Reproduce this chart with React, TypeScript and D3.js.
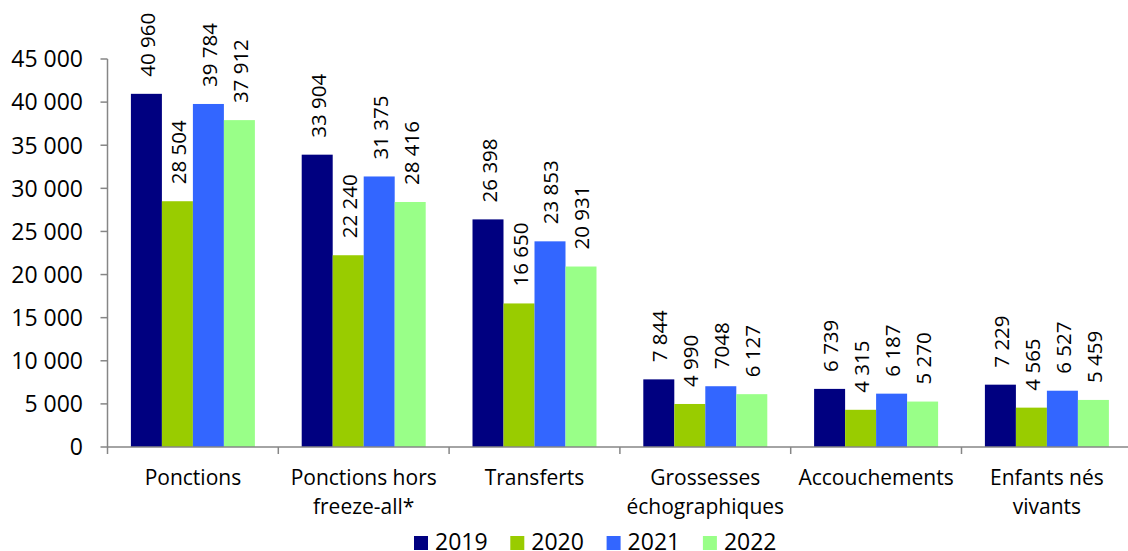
import React from "react";
import * as d3 from "d3";

const categories = [
  ["Ponctions"],
  ["Ponctions hors", "freeze-all*"],
  ["Transferts"],
  ["Grossesses", "échographiques"],
  ["Accouchements"],
  ["Enfants nés", "vivants"],
];
const years = ["2019", "2020", "2021", "2022"];
const colors = ["#000080", "#99CC00", "#3366FF", "#99FF88"];
const v2019 = [40960, 33904, 26398, 7844, 6739, 7229];
const v2020 = [28504, 22240, 16650, 4990, 4315, 4565];
const v2021 = [39784, 31375, 23853, 7048, 6187, 6527];
const v2022 = [37912, 28416, 20931, 6127, 5270, 5459];
const l2019 = ["40 960", "33 904", "26 398", "7 844", "6 739", "7 229"];
const l2020 = ["28 504", "22 240", "16 650", "4 990", "4 315", "4 565"];
const l2021 = ["39 784", "31 375", "23 853", "7048", "6 187", "6 527"];
const l2022 = ["37 912", "28 416", "20 931", "6 127", "5 270", "5 459"];
const yTicks = [0, 5000, 10000, 15000, 20000, 25000, 30000, 35000, 40000, 45000];
const yTickLabels = ["0", "5 000", "10 000", "15 000", "20 000", "25 000", "30 000", "35 000", "40 000", "45 000"];

const series = [v2019, v2020, v2021, v2022];
const labels = [l2019, l2020, l2021, l2022];

export default function App() {
  const W = 1128, H = 551;
  const left = 107.5, top = 59, bottom = 447;
  const font = "'Open Sans', sans-serif";
  const axisColor = "#868686";
  const catKeys = categories.map((_, i) => String(i));
  const x0 = d3.scaleBand<string>().domain(catKeys).range([left, left + 6 * 170.8]).paddingInner(0).paddingOuter(0);
  const x1 = d3.scaleBand<string>().domain(years).range([0, x0.bandwidth()]).paddingInner(0).paddingOuter(0.755);
  const y = d3.scaleLinear().domain([0, 45000]).range([bottom, top]);

  const legendX = d3.scaleBand<string>().domain(years).range([414, 414 + 4 * 96.3]);

  return (
    <svg width={W} height={H} style={{ position: "absolute", left: 0, top: 0, fontFamily: font }}>
      <rect x={0} y={0} width={W} height={H} fill="#fff" />
      {/* bars */}
      {series.map((vals, si) =>
        vals.map((v, ci) => {
          const bx = (x0(String(ci)) as number) + (x1(years[si]) as number);
          const bw = x1.bandwidth();
          const by = y(v);
          return (
            <rect key={`b${si}-${ci}`} x={bx} y={by} width={bw} height={bottom - by} fill={colors[si]} />
          );
        })
      )}
      {/* value labels */}
      {series.map((vals, si) =>
        vals.map((v, ci) => {
          const cx = (x0(String(ci)) as number) + (x1(years[si]) as number) + x1.bandwidth() / 2 + 8.5;
          const ty = y(v) - 17;
          return (
            <text key={`l${si}-${ci}`} transform={`translate(${cx},${ty}) rotate(-90)`} fontSize={20.5} fill="#000" textAnchor="start">
              {labels[si][ci]}
            </text>
          );
        })
      )}
      {/* y axis */}
      <line x1={left} x2={left} y1={top} y2={bottom} stroke={axisColor} strokeWidth={1.5} />
      {yTicks.map((t, i) => (
        <g key={`yt${i}`}>
          <line x1={left - 7} x2={left} y1={y(t)} y2={y(t)} stroke={axisColor} strokeWidth={1.5} />
          <text x={83} y={y(t)} dy="0.36em" textAnchor="end" fontSize={23} fill="#000">
            {yTickLabels[i]}
          </text>
        </g>
      ))}
      {/* x axis */}
      <line x1={left} x2={W} y1={bottom} y2={bottom} stroke={axisColor} strokeWidth={1.5} />
      {catKeys.map((k) => (
        <line key={`xt${k}`} x1={x0(k) as number} x2={x0(k) as number} y1={bottom} y2={bottom + 7} stroke={axisColor} strokeWidth={1.5} />
      ))}
      {categories.map((lines, ci) => (
        <text key={`c${ci}`} x={(x0(String(ci)) as number) + x0.bandwidth() / 2} y={485} textAnchor="middle" fontSize={21} fill="#000">
          {lines.map((ln, li) => (
            <tspan key={li} x={(x0(String(ci)) as number) + x0.bandwidth() / 2} dy={li === 0 ? 0 : 29}>
              {ln}
            </tspan>
          ))}
        </text>
      ))}
      {/* legend */}
      {years.map((yr, i) => {
        const lx = legendX(yr) as number;
        return (
          <g key={`lg${yr}`}>
            <rect x={lx} y={536} width={14} height={14} fill={colors[i]} />
            <text x={lx + 21} y={550} fontSize={23} fill="#000">
              {yr}
            </text>
          </g>
        );
      })}
    </svg>
  );
}
